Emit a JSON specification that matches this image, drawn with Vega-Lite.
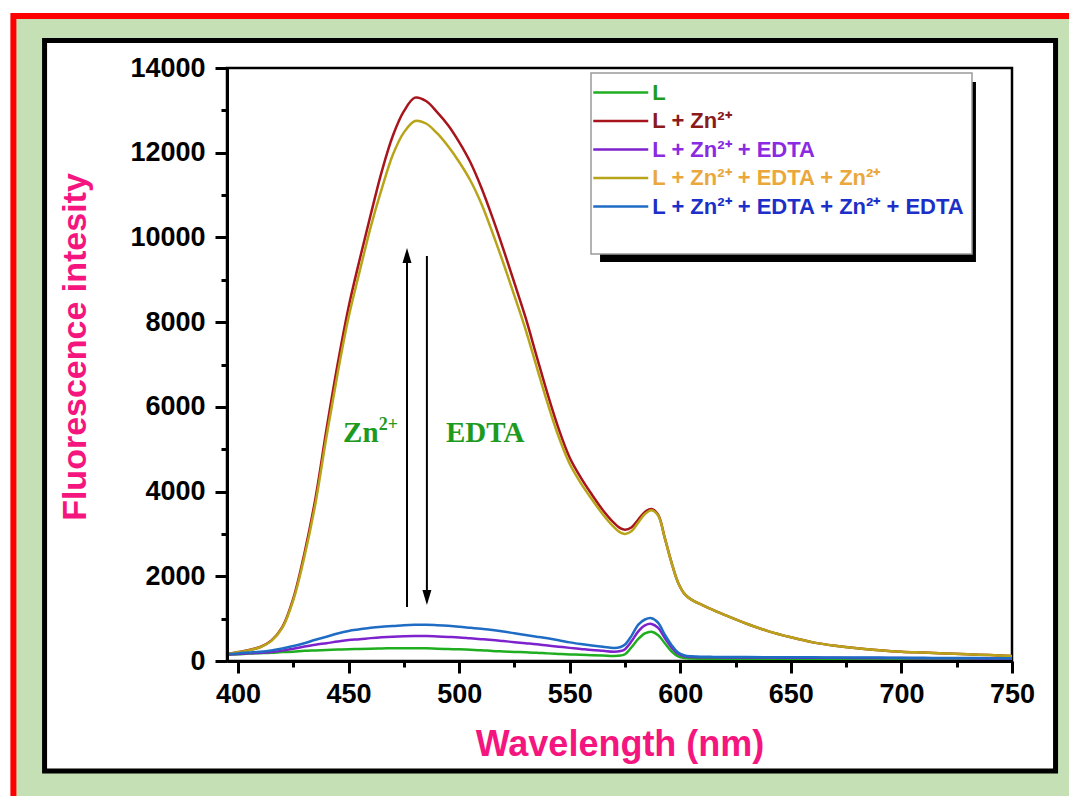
{
  "$schema": "https://vega.github.io/schema/vega-lite/v6.json",
  "width": 785,
  "height": 593,
  "autosize": {"type": "none"},
  "padding": {"left": 227, "top": 68, "right": 57, "bottom": 135},
  "background": "white",
  "config": {"view": {"stroke": null}},
  "datasets": {
    "spectra": [
      {"wl": 395, "L": 150, "LZn": 165, "LZnE": 155, "LZnEZn": 165, "LZnEZnE": 165},
      {"wl": 400, "L": 160, "LZn": 210, "LZnE": 165, "LZnEZn": 205, "LZnEZnE": 180},
      {"wl": 405, "L": 175, "LZn": 260, "LZnE": 180, "LZnEZn": 255, "LZnEZnE": 200},
      {"wl": 410, "L": 185, "LZn": 330, "LZnE": 195, "LZnEZn": 325, "LZnEZnE": 220},
      {"wl": 415, "L": 195, "LZn": 480, "LZnE": 215, "LZnEZn": 470, "LZnEZnE": 250},
      {"wl": 420, "L": 210, "LZn": 800, "LZnE": 245, "LZnEZn": 780, "LZnEZnE": 295},
      {"wl": 425, "L": 220, "LZn": 1480, "LZnE": 290, "LZnEZn": 1440, "LZnEZnE": 354},
      {"wl": 430, "L": 240, "LZn": 2540, "LZnE": 340, "LZnEZn": 2460, "LZnEZnE": 420},
      {"wl": 435, "L": 250, "LZn": 3840, "LZnE": 385, "LZnEZn": 3720, "LZnEZnE": 500},
      {"wl": 440, "L": 260, "LZn": 5470, "LZnE": 420, "LZnEZn": 5300, "LZnEZnE": 574},
      {"wl": 445, "L": 270, "LZn": 7000, "LZnE": 460, "LZnEZn": 6780, "LZnEZnE": 650},
      {"wl": 450, "L": 280, "LZn": 8360, "LZnE": 495, "LZnEZn": 8120, "LZnEZnE": 710},
      {"wl": 455, "L": 285, "LZn": 9480, "LZnE": 515, "LZnEZn": 9200, "LZnEZnE": 748},
      {"wl": 460, "L": 292, "LZn": 10540, "LZnE": 540, "LZnEZn": 10250, "LZnEZnE": 785},
      {"wl": 465, "L": 297, "LZn": 11560, "LZnE": 560, "LZnEZn": 11150, "LZnEZnE": 810},
      {"wl": 470, "L": 300, "LZn": 12400, "LZnE": 575, "LZnEZn": 11950, "LZnEZnE": 826},
      {"wl": 475, "L": 302, "LZn": 12980, "LZnE": 585, "LZnEZn": 12480, "LZnEZnE": 845},
      {"wl": 480, "L": 302, "LZn": 13300, "LZnE": 590, "LZnEZn": 12750, "LZnEZnE": 855},
      {"wl": 485, "L": 300, "LZn": 13220, "LZnE": 590, "LZnEZn": 12690, "LZnEZnE": 857},
      {"wl": 490, "L": 290, "LZn": 12960, "LZnE": 580, "LZnEZn": 12460, "LZnEZnE": 845},
      {"wl": 495, "L": 282, "LZn": 12650, "LZnE": 568, "LZnEZn": 12150, "LZnEZnE": 830},
      {"wl": 500, "L": 276, "LZn": 12250, "LZnE": 555, "LZnEZn": 11780, "LZnEZnE": 810},
      {"wl": 505, "L": 265, "LZn": 11780, "LZnE": 535, "LZnEZn": 11350, "LZnEZnE": 785},
      {"wl": 510, "L": 255, "LZn": 11180, "LZnE": 515, "LZnEZn": 10800, "LZnEZnE": 760},
      {"wl": 515, "L": 236, "LZn": 10480, "LZnE": 495, "LZnEZn": 10120, "LZnEZnE": 732},
      {"wl": 520, "L": 225, "LZn": 9720, "LZnE": 470, "LZnEZn": 9390, "LZnEZnE": 695},
      {"wl": 525, "L": 215, "LZn": 8920, "LZnE": 445, "LZnEZn": 8620, "LZnEZnE": 655},
      {"wl": 530, "L": 205, "LZn": 8110, "LZnE": 420, "LZnEZn": 7830, "LZnEZnE": 614},
      {"wl": 535, "L": 195, "LZn": 7200, "LZnE": 395, "LZnEZn": 6950, "LZnEZnE": 575},
      {"wl": 540, "L": 180, "LZn": 6300, "LZnE": 365, "LZnEZn": 6080, "LZnEZnE": 535},
      {"wl": 545, "L": 168, "LZn": 5480, "LZnE": 338, "LZnEZn": 5290, "LZnEZnE": 490},
      {"wl": 550, "L": 155, "LZn": 4800, "LZnE": 310, "LZnEZn": 4650, "LZnEZnE": 440},
      {"wl": 555, "L": 145, "LZn": 4330, "LZnE": 285, "LZnEZn": 4200, "LZnEZnE": 400},
      {"wl": 560, "L": 135, "LZn": 3930, "LZnE": 260, "LZnEZn": 3820, "LZnEZnE": 365},
      {"wl": 565, "L": 128, "LZn": 3560, "LZnE": 240, "LZnEZn": 3460, "LZnEZnE": 335},
      {"wl": 570, "L": 120, "LZn": 3260, "LZnE": 220, "LZnEZn": 3160, "LZnEZnE": 305},
      {"wl": 573, "L": 130, "LZn": 3130, "LZnE": 235, "LZnEZn": 3030, "LZnEZnE": 330},
      {"wl": 575, "L": 160, "LZn": 3100, "LZnE": 280, "LZnEZn": 3000, "LZnEZnE": 390},
      {"wl": 578, "L": 330, "LZn": 3160, "LZnE": 470, "LZnEZn": 3070, "LZnEZnE": 600},
      {"wl": 581, "L": 520, "LZn": 3340, "LZnE": 700, "LZnEZn": 3270, "LZnEZnE": 860},
      {"wl": 584, "L": 650, "LZn": 3520, "LZnE": 840, "LZnEZn": 3470, "LZnEZnE": 980},
      {"wl": 587, "L": 692, "LZn": 3590, "LZnE": 875, "LZnEZn": 3560, "LZnEZnE": 1010},
      {"wl": 590, "L": 610, "LZn": 3450, "LZnE": 780, "LZnEZn": 3430, "LZnEZnE": 900},
      {"wl": 593, "L": 420, "LZn": 2900, "LZnE": 540, "LZnEZn": 2900, "LZnEZnE": 620},
      {"wl": 596, "L": 230, "LZn": 2330, "LZnE": 320, "LZnEZn": 2330, "LZnEZnE": 380},
      {"wl": 599, "L": 110, "LZn": 1850, "LZnE": 170, "LZnEZn": 1850, "LZnEZnE": 200},
      {"wl": 602, "L": 70, "LZn": 1580, "LZnE": 110, "LZnEZn": 1580, "LZnEZnE": 130},
      {"wl": 605, "L": 60, "LZn": 1450, "LZnE": 95, "LZnEZn": 1450, "LZnEZnE": 110},
      {"wl": 610, "L": 55, "LZn": 1320, "LZnE": 90, "LZnEZn": 1320, "LZnEZnE": 100},
      {"wl": 615, "L": 52, "LZn": 1200, "LZnE": 88, "LZnEZn": 1200, "LZnEZnE": 97},
      {"wl": 620, "L": 50, "LZn": 1090, "LZnE": 85, "LZnEZn": 1090, "LZnEZnE": 95},
      {"wl": 630, "L": 48, "LZn": 880, "LZnE": 82, "LZnEZn": 880, "LZnEZnE": 92},
      {"wl": 640, "L": 47, "LZn": 700, "LZnE": 80, "LZnEZn": 700, "LZnEZnE": 90},
      {"wl": 650, "L": 46, "LZn": 560, "LZnE": 78, "LZnEZn": 560, "LZnEZnE": 88},
      {"wl": 660, "L": 45, "LZn": 440, "LZnE": 76, "LZnEZn": 440, "LZnEZnE": 86},
      {"wl": 670, "L": 45, "LZn": 360, "LZnE": 74, "LZnEZn": 360, "LZnEZnE": 84},
      {"wl": 680, "L": 44, "LZn": 300, "LZnE": 72, "LZnEZn": 300, "LZnEZnE": 82},
      {"wl": 690, "L": 43, "LZn": 255, "LZnE": 70, "LZnEZn": 255, "LZnEZnE": 80},
      {"wl": 700, "L": 42, "LZn": 220, "LZnE": 68, "LZnEZn": 220, "LZnEZnE": 78},
      {"wl": 710, "L": 42, "LZn": 200, "LZnE": 66, "LZnEZn": 200, "LZnEZnE": 75},
      {"wl": 720, "L": 41, "LZn": 180, "LZnE": 64, "LZnEZn": 180, "LZnEZnE": 72},
      {"wl": 730, "L": 41, "LZn": 160, "LZnE": 62, "LZnEZn": 160, "LZnEZnE": 70},
      {"wl": 740, "L": 40, "LZn": 140, "LZnE": 60, "LZnEZn": 140, "LZnEZnE": 67},
      {"wl": 750, "L": 40, "LZn": 120, "LZnE": 58, "LZnEZn": 120, "LZnEZnE": 65}
    ]
  },
  "layer": [
    {
      "data": {"values": [{}]},
      "mark": {"type": "rect", "fill": "#c5e0b4", "stroke": "#ff0000", "strokeWidth": 6},
      "encoding": {
        "x": {"datum": 298.4, "type": "quantitative", "scale": {"domain": [395, 750], "nice": false, "zero": false}},
        "x2": {"datum": 900},
        "y": {"datum": 15228, "type": "quantitative", "scale": {"domain": [0, 14000], "nice": false, "zero": false}},
        "y2": {"datum": -12000}
      }
    },
    {
      "data": {"values": [{}]},
      "mark": {"type": "rect", "fill": "white", "stroke": "black", "strokeWidth": 5},
      "encoding": {
        "x": {"datum": 312.5, "type": "quantitative"},
        "x2": {"datum": 769.7},
        "y": {"datum": 14649, "type": "quantitative"},
        "y2": {"datum": -2595}
      }
    },
    {
      "data": {"values": [{}]},
      "mark": {"type": "rect", "fill": "black"},
      "encoding": {
        "x": {"datum": 563.7, "type": "quantitative"},
        "x2": {"datum": 733.7},
        "y": {"datum": 13670, "type": "quantitative"},
        "y2": {"datum": 9420}
      }
    },
    {
      "data": {"values": [{}]},
      "mark": {"type": "rect", "filled": false, "stroke": "black", "strokeWidth": 2.5},
      "encoding": {
        "x": {"datum": 395, "type": "quantitative"},
        "x2": {"datum": 750},
        "y": {"datum": 0, "type": "quantitative"},
        "y2": {"datum": 14000}
      }
    },
    {
      "data": {"name": "spectra"},
      "transform": [{"fold": ["L", "LZn", "LZnE", "LZnEZn", "LZnEZnE"], "as": ["series", "value"]}],
      "mark": {"type": "line", "strokeWidth": 2.5, "interpolate": "catmull-rom"},
      "encoding": {
        "x": {
          "field": "wl", "type": "quantitative",
          "scale": {"domain": [395, 750], "nice": false, "zero": false},
          "axis": {
            "title": "Wavelength (nm)",
            "values": [400, 425, 450, 475, 500, 525, 550, 575, 600, 625, 650, 675, 700, 725, 750],
            "format": "d",
            "labelExpr": "datum.value % 50 === 0 ? datum.label : ''",
            "tickSize": {"condition": {"test": "datum.value % 50 === 0", "value": 12}, "value": 6},
            "tickWidth": 3, "tickColor": "black", "domainWidth": 3, "domainColor": "black",
            "labelFont": "Liberation Sans", "labelFontWeight": "bold", "labelFontSize": 27, "labelColor": "black",
            "labelPadding": 8, "labelFlush": false, "labelOverlap": false,
            "titleFont": "Liberation Sans", "titleFontWeight": "bold", "titleFontSize": 36, "titleColor": "#f5157e",
            "titlePadding": 20, "grid": false, "zindex": 1
          }
        },
        "y": {
          "field": "value", "type": "quantitative",
          "scale": {"domain": [0, 14000], "nice": false, "zero": false},
          "axis": {
            "title": "Fluorescence intesity",
            "values": [0, 1000, 2000, 3000, 4000, 5000, 6000, 7000, 8000, 9000, 10000, 11000, 12000, 13000, 14000],
            "format": "d",
            "labelExpr": "datum.value % 2000 === 0 ? datum.label : ''",
            "tickSize": {"condition": {"test": "datum.value % 2000 === 0", "value": 12}, "value": 6},
            "tickWidth": 3, "tickColor": "black", "domainWidth": 3, "domainColor": "black",
            "labelFont": "Liberation Sans", "labelFontWeight": "bold", "labelFontSize": 27, "labelColor": "black",
            "labelPadding": 10, "labelFlush": false, "labelOverlap": false,
            "titleFont": "Liberation Sans", "titleFontWeight": "bold", "titleFontSize": 34, "titleColor": "#f5157e",
            "titleX": -142, "titleY": 278.5, "titleBaseline": "alphabetic", "titleAlign": "center", "titleAngle": 270,
            "grid": false, "zindex": 1
          }
        },
        "color": {
          "field": "series", "type": "nominal",
          "scale": {
            "domain": ["L", "LZn", "LZnE", "LZnEZn", "LZnEZnE"],
            "range": ["#1fae1f", "#a8141c", "#7d22cc", "#b8a418", "#1f6cc4"]
          },
          "legend": {
            "orient": "none", "legendX": 364, "legendY": 5,
            "title": " ", "titleOrient": "bottom", "titleFontSize": 22, "titlePadding": 7.5,
            "fillColor": "white", "strokeColor": "#9a9a9a", "padding": 7,
            "symbolType": "M-2.5,0H2.5", "symbolSize": 484, "symbolStrokeWidth": 2.5, "symbolOffset": 10.25,
            "labelFont": "Liberation Sans", "labelFontWeight": "bold", "labelFontSize": 22, "labelLimit": 600,
            "labelOffset": 19, "rowPadding": 4.5,
            "labelExpr": "{'L': 'L', 'LZn': 'L + Zn²⁺', 'LZnE': 'L + Zn²⁺ + EDTA', 'LZnEZn': 'L + Zn²⁺ + EDTA + Zn²⁺', 'LZnEZnE': 'L + Zn²⁺ + EDTA + Zn²⁺ + EDTA'}[datum.value]",
            "encode": {
              "legend": {"update": {"strokeWidth": {"value": 1.5}}},
              "labels": {"update": {"fill": {"signal": "['#1e9c1e', '#8b1a1a', '#8a2be2', '#eaa83c', '#1c2fc8'][datum.index]"}}}
            }
          }
        }
      }
    },
    {
      "data": {"values": [{}]},
      "mark": {"type": "rule", "stroke": "black", "strokeWidth": 2},
      "encoding": {
        "x": {"datum": 476.4, "type": "quantitative"},
        "y": {"datum": 1275, "type": "quantitative"},
        "y2": {"datum": 9573}
      }
    },
    {
      "data": {"values": [{}]},
      "mark": {"type": "rule", "stroke": "black", "strokeWidth": 2},
      "encoding": {
        "x": {"datum": 485.4, "type": "quantitative"},
        "y": {"datum": 9562, "type": "quantitative"},
        "y2": {"datum": 1499}
      }
    },
    {
      "data": {"values": [{}]},
      "mark": {"type": "point", "shape": "M0,-1L-0.6,1L0.6,1Z", "filled": true, "fill": "black", "opacity": 1, "size": 225, "strokeWidth": 0},
      "encoding": {
        "x": {"datum": 476.4, "type": "quantitative"},
        "y": {"datum": 9573, "type": "quantitative"}
      }
    },
    {
      "data": {"values": [{}]},
      "mark": {"type": "point", "shape": "M0,1L-0.6,-1L0.6,-1Z", "filled": true, "fill": "black", "opacity": 1, "size": 225, "strokeWidth": 0},
      "encoding": {
        "x": {"datum": 485.4, "type": "quantitative"},
        "y": {"datum": 1499, "type": "quantitative"}
      }
    },
    {
      "data": {"values": [{}]},
      "mark": {"type": "text", "text": "Zn", "font": "Liberation Serif", "fontWeight": "bold", "fontSize": 29, "fill": "#1e9a1e", "align": "left", "baseline": "alphabetic"},
      "encoding": {
        "x": {"datum": 447.5, "type": "quantitative"},
        "y": {"datum": 5160, "type": "quantitative"}
      }
    },
    {
      "data": {"values": [{}]},
      "mark": {"type": "text", "text": "2+", "font": "Liberation Serif", "fontWeight": "bold", "fontSize": 18, "fill": "#1e9a1e", "align": "left", "baseline": "alphabetic"},
      "encoding": {
        "x": {"datum": 463.6, "type": "quantitative"},
        "y": {"datum": 5450, "type": "quantitative"}
      }
    },
    {
      "data": {"values": [{}]},
      "mark": {"type": "text", "text": "EDTA", "font": "Liberation Serif", "fontWeight": "bold", "fontSize": 29, "fill": "#1e9a1e", "align": "left", "baseline": "alphabetic"},
      "encoding": {
        "x": {"datum": 494.0, "type": "quantitative"},
        "y": {"datum": 5160, "type": "quantitative"}
      }
    }
  ]
}
